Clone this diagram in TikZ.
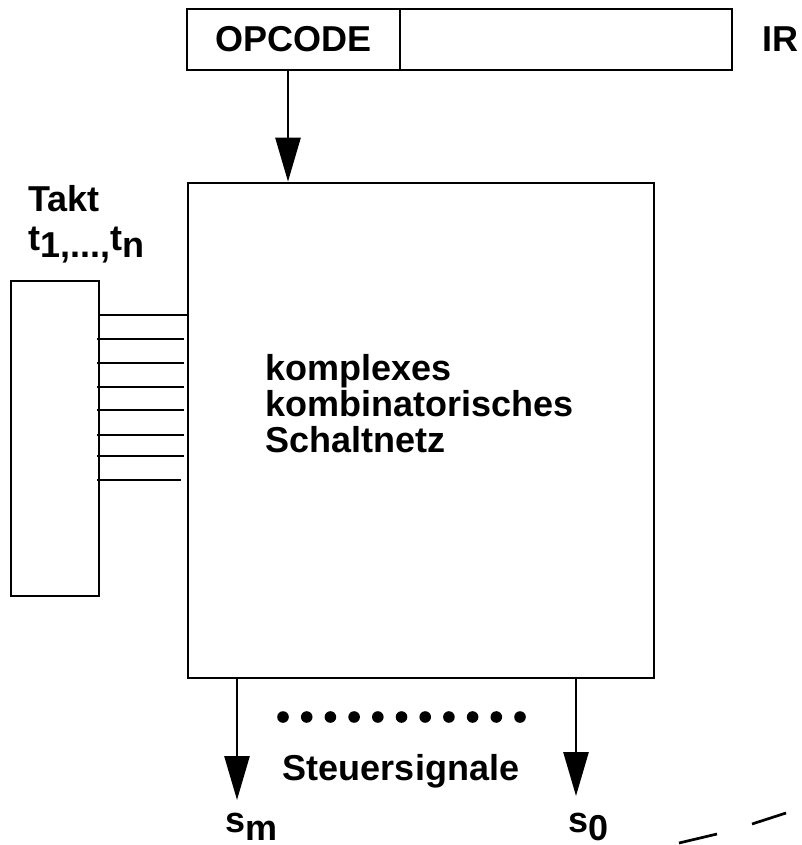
\documentclass[tikz,border=0pt]{standalone}
\usepackage{fontspec}
\setmainfont{Liberation Sans}
\usepackage{tikz}
\usetikzlibrary{arrows.meta}

\tikzset{
  box/.style={draw, rectangle, line width=1.35pt, inner sep=0pt},
  wire/.style={line width=1.35pt},
  sig/.style={wire, -{Triangle[length=22pt, width=12.5pt]}},
  lbl/.style={inner sep=0pt, font=\fontsize{18}{18}\bfseries\selectfont},
}

\begin{document}
\begin{tikzpicture}[x=0.5pt, y=-0.5pt]
        \useasboundingbox (0,0) rectangle (802,845);

        % Draw the nodes
        \node[box, lbl, minimum width=106.5pt, minimum height=30.5pt] (opcode) at (293.5, 39.5) {OPCODE};
        \node[box, minimum width=166pt, minimum height=30.5pt] (irrest) at (566, 39.5) {};
        \node[lbl, anchor=base] (irlbl) at (780, 52) {IR};
        \node[box, minimum width=233pt, minimum height=247.5pt] (schaltnetz) at (421, 430.5) {};
        \node[lbl, anchor=north west, align=left] (netztext) at (265, 354) {komplexes\\kombinatorisches\\Schaltnetz};
        \node[box, minimum width=44pt, minimum height=157.5pt] (takt) at (55, 438.5) {};
        \node[lbl, anchor=north west, align=left] (taktlbl) at (28, 185) {Takt\\[5pt]\raisebox{3.5pt}{t}1,...,\raisebox{3.5pt}{t}n};
        \node[lbl, anchor=base] (steuer) at (401, 780) {Steuersignale};
        \node[lbl, anchor=base west] (sm) at (225, 840) {\raisebox{4pt}{s}m};
        \node[lbl, anchor=base west] (s0) at (568, 840) {\raisebox{4pt}{s}0};
        \coordinate (smtip) at (237, 800);
        \coordinate (s0tip) at (576, 796);

        % Draw the arrows
        \draw[sig] ([xshift=-2.75pt]opcode.south) -- ([xshift=-2.75pt]opcode.south |- schaltnetz.north);
        \draw[sig] (schaltnetz.south -| smtip) -- (smtip);
        \draw[sig] (schaltnetz.south -| s0tip) -- (s0tip);

        % Takt lines
        \draw[wire] (takt.east |- 0,315) -- (schaltnetz.west |- 0,315);
        \foreach \y/\len in {339/87, 363/87, 387/87, 410/87, 435/87, 456/87, 480/84}
            \draw[wire] ([xshift=-1.5pt]takt.east |- 0,\y) -- ++(\len,0);

        % dots between the signals
        \foreach \i in {0,...,10}
            \fill (283+23.7*\i, 717) circle (2.9pt);

        % strokes at the lower right
        \draw[wire] (679, 843) -- (717, 834);
        \draw[wire] (752, 824) -- (786, 813);
    \end{tikzpicture}
\end{document}
